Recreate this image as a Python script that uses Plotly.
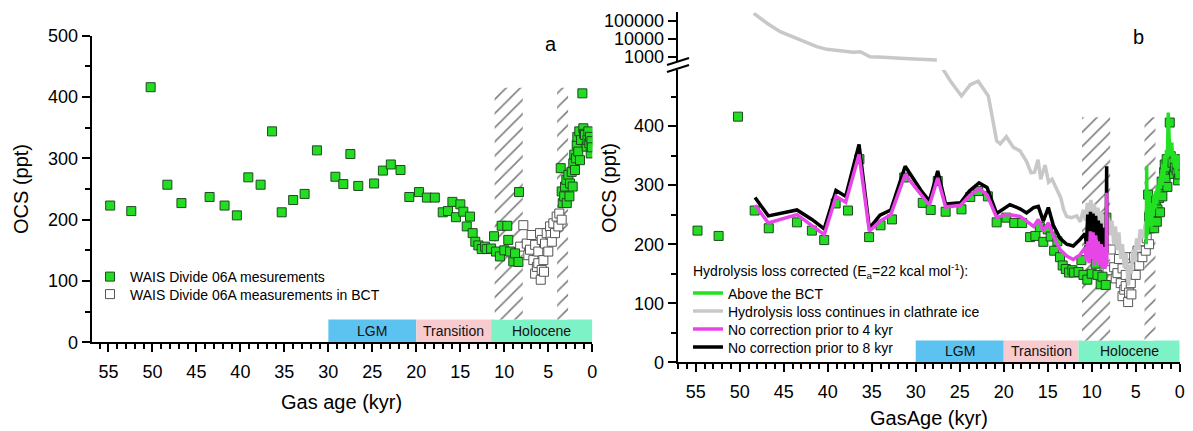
import plotly.graph_objects as go

W, H = 1193, 431

# ---------------- data ----------------
meas_age = [54.8, 52.4, 50.2, 48.3, 46.7, 43.5, 41.8, 40.4, 39.1, 37.7, 36.4, 35.3, 34.0, 32.7, 31.3,
            29.2, 28.3, 27.5, 26.6, 24.8, 23.8, 22.9, 21.8, 20.8, 19.7, 18.8, 17.9, 17.0, 16.4, 15.9,
            15.5, 15.0, 14.66, 14.27, 13.9, 13.6, 13.3, 12.95, 12.57, 12.2, 12.0, 11.5, 11.17, 10.94,
            10.5, 10.3, 10.0, 9.66, 9.55, 9.35, 8.98, 8.78, 8.4, 8.33,
            3.59, 3.48, 3.36, 3.2, 3.1, 2.95, 2.9, 2.72, 2.6, 2.53, 2.34, 2.23, 2.16, 2.05, 1.97, 1.85,
            1.77, 1.7, 1.6, 1.48, 1.4, 1.28, 1.13, 1.02, 0.93, 0.83, 0.64, 0.55, 0.45, 0.34, 0.26,
            0.18, 0.1, 0.05]
meas_ocs = [223, 214, 416, 257, 227, 237, 223, 207, 269, 257, 344, 212, 232, 242, 313,
            270, 258, 307, 255, 259, 280, 290, 281, 237, 245, 236, 236, 212, 214, 229,
            204, 225, 213, 189, 205, 178, 164, 158, 152, 156, 152, 153, 173, 148,
            140, 190, 150, 190, 167, 148, 132, 145, 131, 245,
            284, 246, 227, 238, 254, 265, 227, 273, 238, 259, 278, 254, 292, 306, 281, 300,
            322, 335, 311, 344, 297, 330, 406, 349, 340, 338, 319, 330, 344, 325, 335,
            308, 328, 318]

bct_age = [8.2, 7.84, 7.45, 7.27, 7.08, 6.9, 6.7, 6.5, 6.5, 6.3, 6.14, 6.14, 5.94, 5.86, 5.75,
           5.75, 5.56, 5.49, 5.38, 5.18, 5.0, 4.8, 4.73, 4.6, 4.43, 4.24, 4.05, 3.86, 3.75, 3.48]
bct_ocs = [156, 191, 161, 142, 151, 175, 134, 159, 112, 123, 148, 129, 178, 102, 118,
           167, 134, 115, 161, 178, 148, 189, 175, 164, 194, 178, 205, 189, 210, 200]

# hydrolysis-loss corrected, continuing in clathrate ice (upper, log part)
gray_up_age = [48.4, 46.9, 45.4, 43.1, 41.25, 40.1, 38.6, 37.1, 36.3, 35.2, 33.7, 32.5, 31.8, 29.5, 27.6]
gray_up_ocs = [257000, 72000, 24500, 8500, 3600, 2570, 2150, 1760, 1900, 1000, 920, 810, 810, 715, 660]
# same series, lower (linear) part
gray_lo_age = [27.05, 26.0, 24.8, 23.8, 22.9, 22.2, 21.75, 20.8, 20.4, 19.7, 18.9, 18.15, 17.4, 16.9,
               16.5, 16.1, 15.8, 15.3, 14.9, 14.5, 13.9, 13.5, 13.2, 12.85, 12.3, 11.7, 11.3, 10.95,
               10.7, 10.5, 10.3, 10.1, 9.9, 9.7, 9.5, 9.3, 9.1, 8.9, 8.7, 8.5, 8.3, 8.1, 7.9, 7.7,
               7.5, 7.3, 7.1, 6.9, 6.7, 6.5, 6.3, 6.1, 5.9, 5.8, 5.7, 5.5, 5.3, 5.1, 4.9, 4.7, 4.5,
               4.2, 3.9, 3.7]
gray_lo_ocs = [500, 475, 451, 470, 476, 462, 451, 375, 370, 382, 364, 358, 340, 321,
               322, 343, 310, 334, 305, 310, 290, 278, 259, 247, 245, 248, 238, 258,
               240, 270, 255, 275, 250, 268, 240, 262, 235, 255, 230, 250, 225, 245, 215, 240,
               200, 230, 190, 220, 175, 200, 160, 185, 140, 130, 165, 150, 190, 170, 210, 190, 225,
               210, 235, 240]

corr_age = [48.26, 46.75, 43.5, 41.8, 40.4, 39.06, 37.96, 36.44, 35.27, 34.06, 32.84, 31.2, 29.3,
            28.45, 27.5, 26.6, 24.9, 23.9, 22.8, 21.9, 20.8, 19.85, 19.3, 18.15, 17.4, 16.6, 16.07,
            15.5, 14.93, 14.36, 13.6, 12.84, 12.1, 11.33, 10.76, 10.6, 10.45, 10.3, 10.15, 10.0,
            9.85, 9.7, 9.55, 9.4, 9.25, 9.1, 8.95, 8.8, 8.65, 8.5, 8.35, 8.3, 8.28]
# no correction prior to 4 kyr
mag_ocs = [266, 236, 250, 232, 216, 281, 271, 352, 222, 239, 250, 318, 281,
           266, 312, 263, 266, 282, 294, 284, 245, 250, 250, 247, 239, 230, 242,
           222, 236, 214, 191, 180, 174, 182, 194, 172, 205, 168, 222, 175,
           220, 165, 215, 170, 205, 165, 200, 160, 195, 158, 175, 287, 165]
# no correction prior to 8 kyr
blk_ocs = [279, 248, 258, 242, 226, 291, 281, 369, 227, 249, 258, 332, 289,
           273, 324, 268, 270, 290, 304, 296, 252, 262, 267, 260, 253, 262, 264,
           239, 262, 232, 210, 200, 197, 208, 218, 200, 250, 205, 255, 210,
           252, 205, 248, 208, 240, 200, 235, 198, 228, 195, 215, 332, 185]

# above the BCT
grn_age = [3.8, 3.75, 3.7, 3.6, 3.5, 3.4, 3.3, 3.2, 3.1, 3.0, 2.9, 2.8, 2.7, 2.6, 2.5, 2.4, 2.3,
           2.2, 2.1, 2.0, 1.9, 1.8, 1.7, 1.6, 1.5, 1.4, 1.3, 1.2, 1.1, 1.0, 0.9, 0.8, 0.7, 0.6,
           0.5, 0.4, 0.3, 0.2, 0.1, 0.0]
grn_ocs = [200, 332, 215, 230, 290, 240, 250, 230, 270, 250, 285, 260, 290, 270, 300, 280, 310,
           295, 320, 300, 335, 315, 350, 330, 360, 345, 423, 380, 366, 350, 372, 338, 355, 330,
           352, 320, 345, 330, 350, 340]

period_names = ["LGM", "Transition", "Holocene"]
period_start = [30, 20, 11.5]
period_end = [20, 11.5, 0]
period_top = 37

bct_start = [11.1, 4.0]
bct_end = [7.9, 2.75]
bct_top = 415

x_tick_step = 5

# ---------------- styles ----------------
FONT = "Arial, Liberation Sans, sans-serif"
PERIOD_COLORS = ["#5CC3F0", "#F8CBCF", "#7EF2C7"]
GREEN_FILL = "#22DD22"


def px_x(p):
    return p / W


def px_y(p):
    return 1 - p / H


fig = go.Figure()

# hatched BCT zones (bars with pattern)
bct_center = [(a + b) / 2 for a, b in zip(bct_start, bct_end)]
bct_width = [a - b for a, b in zip(bct_start, bct_end)]
hatch = dict(color="white",
             pattern=dict(shape="/", fgcolor="black", bgcolor="white", size=10, solidity=0.16),
             line=dict(width=0))
for xa, ya in [("x", "y"), ("x2", "y2")]:
    fig.add_trace(go.Bar(x=bct_center, y=[bct_top - period_top] * len(bct_center),
                         base=[period_top] * len(bct_center), width=bct_width,
                         marker=hatch, showlegend=False, hoverinfo="skip",
                         xaxis=xa, yaxis=ya))

green_marker = dict(symbol="square", size=9, color=GREEN_FILL, line=dict(color="#1E4A1E", width=1))
white_marker = dict(symbol="square", size=9, color="white", line=dict(color="#555555", width=1))

# panel a
fig.add_trace(go.Scatter(x=bct_age, y=bct_ocs, mode="markers", marker=white_marker,
                         name="WAIS Divide 06A measurements in BCT", legend="legend2",
                         xaxis="x", yaxis="y"))
fig.add_trace(go.Scatter(x=meas_age, y=meas_ocs, mode="markers", marker=green_marker,
                         name="WAIS Divide 06A mesurements", legend="legend",
                         xaxis="x", yaxis="y"))

# panel b squares
fig.add_trace(go.Scatter(x=bct_age, y=bct_ocs, mode="markers", marker=white_marker,
                         showlegend=False, xaxis="x2", yaxis="y2"))
fig.add_trace(go.Scatter(x=meas_age, y=meas_ocs, mode="markers", marker=green_marker,
                         showlegend=False, xaxis="x2", yaxis="y2"))

# panel b lines
GRAY = "#C8C8C8"
fig.add_trace(go.Scatter(x=gray_up_age, y=gray_up_ocs, mode="lines",
                         line=dict(color=GRAY, width=3.5), showlegend=False,
                         xaxis="x2", yaxis="y3"))
fig.add_trace(go.Scatter(x=gray_lo_age, y=gray_lo_ocs, mode="lines",
                         line=dict(color=GRAY, width=3.5),
                         name="Hydrolysis loss continues in clathrate ice", legend="legend4",
                         xaxis="x2", yaxis="y2"))
fig.add_trace(go.Scatter(x=corr_age, y=blk_ocs, mode="lines",
                         line=dict(color="black", width=3.5),
                         name="No correction prior to 8 kyr", legend="legend6",
                         xaxis="x2", yaxis="y2"))
fig.add_trace(go.Scatter(x=corr_age, y=mag_ocs, mode="lines",
                         line=dict(color="#E845E8", width=3.5),
                         name="No correction prior to 4 kyr", legend="legend5",
                         xaxis="x2", yaxis="y2"))
fig.add_trace(go.Scatter(x=grn_age, y=grn_ocs, mode="lines",
                         line=dict(color="#22E022", width=3.5),
                         name="Above the BCT", legend="legend3",
                         xaxis="x2", yaxis="y2"))

# period bands
shapes = []
annotations = []
for xr, yr in [("x", "y"), ("x2", "y2")]:
    for nm, s, e, c in zip(period_names, period_start, period_end, PERIOD_COLORS):
        shapes.append(dict(type="rect", xref=xr, yref=yr, x0=s, x1=e, y0=0, y1=period_top,
                           fillcolor=c, line=dict(width=0), layer="below"))
        annotations.append(dict(x=(s + e) / 2, y=period_top / 2, xref=xr, yref=yr, text=nm,
                                showarrow=False, font=dict(size=14, color="#111")))

# axis break marks on panel b
for y0, y1 in [(65, 58), (72, 65)]:
    shapes.append(dict(type="line", xref="paper", yref="paper",
                       x0=px_x(667), x1=px_x(689), y0=px_y(y0), y1=px_y(y1),
                       line=dict(color="black", width=2)))


def ann(text, xp, yp, size=20, angle=0, xanchor="center"):
    annotations.append(dict(text=text, x=px_x(xp), y=px_y(yp), xref="paper", yref="paper",
                            showarrow=False, textangle=angle, xanchor=xanchor, yanchor="middle",
                            font=dict(size=size, color="black")))


ann("Gas age (kyr)", 342, 402)
ann("GasAge (kyr)", 929, 418)
ann("OCS (ppt)", 21, 189, angle=-90)
ann("OCS (ppt)", 609, 188, angle=-90)
ann("a", 551, 44)
ann("b", 1138, 37)
ann("Hydrolysis loss corrected (E<sub>a</sub>=22 kcal mol<sup>-1</sup>):", 691, 271, size=14,
    xanchor="left")

axis_common = dict(showline=True, linecolor="black", linewidth=2, ticks="outside", ticklen=8,
                   tickwidth=2, tickcolor="black", showgrid=False, zeroline=False,
                   automargin=False, tickfont=dict(size=18, color="black"))
x_common = dict(axis_common, tick0=0, dtick=x_tick_step, ticklabelstandoff=4,
                minor=dict(dtick=1, tick0=0, ticks="outside", ticklen=5, tickwidth=1.5,
                           tickcolor="black"))
y_common = dict(axis_common, tick0=0, dtick=100,
                minor=dict(dtick=50, tick0=0, ticks="outside", ticklen=5, tickwidth=1.5,
                           tickcolor="black"))


def leg(xp, yp):
    return dict(x=px_x(xp), y=px_y(yp), xanchor="left", yanchor="middle",
                bgcolor="rgba(0,0,0,0)", font=dict(size=14, color="black"),
                itemwidth=30, tracegroupgap=0)


fig.update_layout(
    width=W, height=H,
    margin=dict(l=0, r=0, t=0, b=0),
    paper_bgcolor="white", plot_bgcolor="white",
    font=dict(family=FONT, color="black"),
    barmode="overlay",
    xaxis=dict(x_common, domain=[px_x(91.7), px_x(592.3)], range=[56.9, 0], anchor="y"),
    yaxis=dict(y_common, domain=[px_y(342.3), px_y(35.7)], range=[0, 500], anchor="x"),
    xaxis2=dict(x_common, domain=[px_x(677.7), px_x(1179.7)], range=[57.05, 0], anchor="y2"),
    yaxis2=dict(y_common, domain=[px_y(362.3), px_y(70)], range=[0, 495], anchor="x2"),
    yaxis3=dict(axis_common, type="log", domain=[px_y(62), px_y(12.3)], range=[2.706, 5.467],
                tickmode="array", tickvals=[1000, 10000, 100000],
                ticktext=["1000", "10000", "100000"], anchor="x2"),
    legend=leg(90, 277),
    legend2=leg(90, 294.5),
    legend3=leg(688, 293.5),
    legend4=leg(688, 311.5),
    legend5=leg(688, 329.5),
    legend6=leg(688, 347.5),
    shapes=shapes,
    annotations=annotations,
    showlegend=True,
)

fig.write_html("out.html",
               config={"displayModeBar": False},
               post_script="document.body.style.margin='0px';"
                           "document.body.style.overflow='hidden';")
